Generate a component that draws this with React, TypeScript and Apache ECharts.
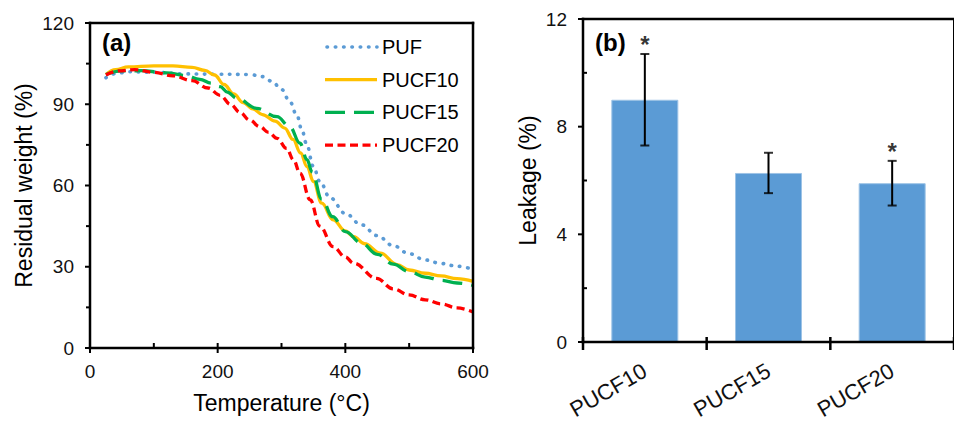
import React, { useEffect, useRef } from "react";
import * as echarts from "echarts";

// ---- Panel (a): TGA curves ----
const pufT = [25, 40, 60, 100, 150, 200, 250, 270, 285, 300, 313, 324, 332, 339, 350, 360, 376, 400, 425, 450, 475, 500, 525, 550, 575, 600];
const pufW = [99.8, 101.3, 102, 101.8, 101.2, 101.1, 101, 100.2, 98.5, 95.5, 91, 86, 80.5, 75.5, 67, 61.5, 55.5, 49.7, 45.5, 41.5, 37.8, 34.8, 32.5, 31.2, 30.2, 29.0];

const pucf10T = [25, 40, 60, 100, 130, 160, 180, 195, 210, 225, 240, 255, 270, 290, 305, 318, 330, 340, 350, 363, 381, 400, 413, 430, 455, 481, 500, 525, 550, 575, 600];
const pucf10W = [101, 102.8, 103.8, 104.2, 104.2, 103.6, 102.5, 100.8, 97.3, 93.8, 90.6, 88.3, 86.2, 83.8, 81.2, 77, 72, 67, 61.5, 53.5, 47.3, 43.2, 41.1, 38.5, 35, 30.8, 28.8, 27.6, 26.6, 25.6, 24.6];

const pucf15T = [25, 50, 80, 120, 150, 172, 190, 204, 215, 230, 261, 293, 313, 329, 340, 348, 363, 380, 400, 425, 450, 475, 500, 525, 550, 575, 600];
const pucf15W = [101, 102.3, 102.4, 101.6, 100.6, 99.2, 97.8, 96.5, 94.5, 92.2, 88.5, 85.4, 81.7, 75.6, 69.5, 65, 55, 48.5, 43.0, 38.8, 34.6, 31.0, 28.2, 26.2, 25.0, 24.0, 23.1];

const pucf20T = [25, 45, 70, 100, 130, 160, 185, 204, 220, 235, 250, 266, 280, 293, 308, 319, 329, 345, 360, 381, 400, 413, 449, 475, 500, 525, 550, 575, 600];
const pucf20W = [100.8, 102.3, 102.8, 101.8, 100.5, 98.7, 96, 93.3, 90, 87, 84.2, 81.7, 79.6, 77.4, 73.7, 69.4, 64.5, 54.7, 45, 37.4, 33.6, 31.3, 25.7, 21.8, 19.6, 17.8, 16.3, 14.8, 13.3];

const seriesNames = ["PUF", "PUCF10", "PUCF15", "PUCF20"];
const seriesColors = ["#5B9BD5", "#FFC000", "#00B050", "#FF0000"];
const seriesDash: (number[] | null)[] = [[0.5, 7.8], null, [20, 9], [8, 4.5]];
const seriesWidth = [3.6, 3.3, 3.3, 3.3];

const tempTicks = [0, 200, 400, 600];
const tempMinorTicks = [100, 300, 500];
const weightTicks = [0, 30, 60, 90, 120];
const weightMinorTicks = [15, 45, 75, 105];

// ---- Panel (b): leakage ----
const categories = ["PUCF10", "PUCF15", "PUCF20"];
const leakage = [9.0, 6.28, 5.9];
const leakageErr = [1.7, 0.75, 0.83];
const significant = [true, false, true];
const leakTicks = [0, 4, 8, 12];
const leakMinorTicks = [2, 6, 10];

const FONT = "'Liberation Sans', Arial, sans-serif";

export default function App() {
  const wrapRef = useRef<HTMLDivElement>(null);
  const ref = useRef<HTMLDivElement>(null);
  useEffect(() => {
    document.body.style.margin = "0";
    const chart = echarts.init(ref.current!, null, { renderer: "svg" });
    const zip = (t: number[], w: number[]) => t.map((x, i) => [x, w[i]]);
    const hidden = () => ({ show: false });
    const labelStyle = () => ({ fontSize: 19, color: "#111", fontFamily: FONT });
    const nameStyle = () => ({ fontSize: 23, color: "#000", fontFamily: FONT });

    const curves = [zip(pufT, pufW), zip(pucf10T, pucf10W), zip(pucf15T, pucf15W), zip(pucf20T, pucf20W)];
    const series: any[] = seriesNames.map((name, k) => ({
      type: "line",
      name,
      xAxisIndex: 0,
      yAxisIndex: 0,
      data: curves[k],
      smooth: 0.4,
      smoothMonotone: "x",
      symbol: "none",
      showSymbol: false,
      lineStyle: {
        color: seriesColors[k],
        width: seriesWidth[k],
        type: seriesDash[k] ?? "solid",
        cap: k === 0 ? "round" : "butt",
      },
      itemStyle: { color: seriesColors[k] },
      z: 3,
    }));

    series.push({
      type: "bar",
      name: "Leakage",
      xAxisIndex: 1,
      yAxisIndex: 1,
      data: leakage,
      barWidth: 67,
      itemStyle: { color: "#5B9BD5", borderColor: "#9DC3E6", borderWidth: 1 },
      z: 2,
    });

    const stems: any[] = [];
    categories.forEach((_, i) => {
      stems.push([i, leakage[i] - leakageErr[i]], [i, leakage[i] + leakageErr[i]], [i, null]);
    });
    series.push({
      type: "line",
      name: "ErrStem",
      xAxisIndex: 1,
      yAxisIndex: 1,
      data: stems,
      connectNulls: false,
      symbol: "none",
      showSymbol: false,
      lineStyle: { color: "#000", width: 2 },
      z: 4,
    });
    const caps: number[][] = [];
    categories.forEach((_, i) => {
      caps.push([i, leakage[i] - leakageErr[i]], [i, leakage[i] + leakageErr[i]]);
    });
    series.push({
      type: "scatter",
      name: "ErrCap",
      xAxisIndex: 1,
      yAxisIndex: 1,
      data: caps,
      symbol: "rect",
      symbolSize: [9, 2],
      itemStyle: { color: "#000" },
      z: 4,
    });
    series.push({
      type: "scatter",
      name: "Sig",
      xAxisIndex: 1,
      yAxisIndex: 1,
      data: categories.map((_, i) => (significant[i] ? [i, leakage[i] + leakageErr[i]] : [i, null])),
      symbolSize: 1,
      itemStyle: { color: "transparent" },
      label: {
        show: true,
        formatter: "*",
        position: "top",
        distance: -3,
        fontSize: 24,
        fontWeight: "bold",
        fontFamily: FONT,
        color: "#000",
      },
      z: 4,
    });

    chart.setOption({
      animation: false,
      backgroundColor: "#fff",
      grid: [
        { left: 90, right: 481, top: 23, bottom: 75 },
        { left: 583, right: -10, top: 19, bottom: 81 },
      ],
      xAxis: [
        {
          type: "value",
          gridIndex: 0,
          min: 0,
          max: 600,
          interval: 200,
          name: "Temperature (°C)",
          nameLocation: "middle",
          nameGap: 43,
          nameTextStyle: nameStyle(),
          axisLine: hidden(),
          axisTick: hidden(),
          axisLabel: { ...labelStyle(), margin: 14 },
          splitLine: hidden(),
        },
        {
          type: "category",
          gridIndex: 1,
          data: categories,
          axisLine: hidden(),
          axisTick: hidden(),
          axisLabel: { fontSize: 22, color: "#111", fontFamily: FONT, rotate: 30, margin: 27 },
          splitLine: hidden(),
        },
      ],
      yAxis: [
        {
          type: "value",
          gridIndex: 0,
          min: 0,
          max: 120,
          interval: 30,
          name: "Residual weight (%)",
          nameLocation: "middle",
          nameGap: 55,
          nameTextStyle: nameStyle(),
          axisLine: hidden(),
          axisTick: hidden(),
          axisLabel: { ...labelStyle(), margin: 16 },
          splitLine: hidden(),
        },
        {
          type: "value",
          gridIndex: 1,
          min: 0,
          max: 12,
          interval: 4,
          name: "Leakage (%)",
          nameLocation: "middle",
          nameGap: 44,
          nameTextStyle: nameStyle(),
          axisLine: hidden(),
          axisTick: hidden(),
          axisLabel: { ...labelStyle(), margin: 16 },
          splitLine: hidden(),
        },
      ],
      series,
    });

    // ---- axis frames and ticks, positioned through the chart's own scales ----
    const px = (axis: number, v: number) => chart.convertToPixel({ xAxisIndex: axis } as any, v) as unknown as number;
    const py = (axis: number, v: number) => chart.convertToPixel({ yAxisIndex: axis } as any, v) as unknown as number;
    const seg = (x1: number, y1: number, x2: number, y2: number, w: number) => ({
      type: "line",
      z: 50,
      shape: { x1, y1, x2, y2 },
      style: { stroke: "#000", lineWidth: w, lineCap: "butt" },
    });
    const edgeH = (x1: number, x2: number, y: number, w: number) => ({
      type: "rect",
      z: 50,
      shape: { x: x1 - w / 2, y: y - w / 2, width: x2 - x1 + w, height: w },
      style: { fill: "#000", stroke: "none" },
    });
    const edgeV = (x: number, y1: number, y2: number, w: number) => ({
      type: "rect",
      z: 50,
      shape: { x: x - w / 2, y: Math.min(y1, y2) - w / 2, width: w, height: Math.abs(y2 - y1) + w },
      style: { fill: "#000", stroke: "none" },
    });
    const g: any[] = [];
    const FW = 2.5;

    // panel (a)
    const aL = px(0, 0), aR = px(0, 600), aB = py(0, 0), aT = py(0, 120);
    g.push(edgeH(aL, aR, aB, FW));
    g.push(edgeH(aL, aR, aT, FW));
    g.push(edgeV(aL, aT, aB, FW));
    g.push(edgeV(aR, aT, aB, FW));
    tempTicks.forEach((v) => g.push(seg(px(0, v), aB - 5, px(0, v), aB + 5, 2)));
    tempMinorTicks.forEach((v) => g.push(seg(px(0, v), aB - 5, px(0, v), aB, 2)));
    weightTicks.forEach((v) => g.push(seg(aL - 5, py(0, v), aL, py(0, v), 2)));
    weightMinorTicks.forEach((v) => g.push(seg(aL - 4, py(0, v), aL, py(0, v), 2)));

    // panel (b)
    const c0 = px(1, 0), c1 = px(1, 1);
    const band = c1 - c0;
    const bL = c0 - band / 2, bR = px(1, categories.length - 1) + band / 2;
    const bB = py(1, 0), bT = py(1, 12);
    g.push(edgeH(bL, bR, bB, FW));
    g.push(edgeH(bL, bR, bT, FW));
    g.push(edgeV(bL, bT, bB, FW));
    for (let i = 0; i <= categories.length; i++) {
      const x = bL + i * band;
      g.push(seg(x, bB - 5, x, bB + 8, 2.5));
    }
    leakTicks.forEach((v) => g.push(seg(bL - 5, py(1, v), bL, py(1, v), 2)));
    leakMinorTicks.forEach((v) => g.push(seg(bL, py(1, v), bL + 4, py(1, v), 2)));

    // legend (line samples with dash patterns)
    const legendX = 325;
    const legendY0 = 47;
    const legendStep = 32.7;
    seriesNames.forEach((name, k) => {
      const y = legendY0 + k * legendStep;
      g.push({
        type: "line",
        shape: { x1: legendX + (k === 0 ? 2 : 0), y1: y, x2: legendX + 52, y2: y },
        style: {
          stroke: seriesColors[k],
          lineWidth: seriesWidth[k],
          lineDash: seriesDash[k] ?? undefined,
          lineCap: k === 0 ? "round" : "butt",
        },
      });
      g.push({
        type: "text",
        x: legendX + 57,
        y,
        style: { text: name, fontSize: 20, fontFamily: FONT, fill: "#000", verticalAlign: "middle" },
      });
    });

    g.push({ type: "text", left: 102, top: 30, style: { text: "(a)", fontSize: 24, fontWeight: "bold", fontFamily: FONT, fill: "#000" } });
    g.push({ type: "text", left: 595, top: 30, style: { text: "(b)", fontSize: 24, fontWeight: "bold", fontFamily: FONT, fill: "#000" } });

    chart.setOption({ graphic: g });

    // overlay frame boxes (same positions, from the chart's scales) to guarantee solid black borders
    const host = wrapRef.current!;
    const boxes: HTMLDivElement[] = [];
    const addBox = (l: number, t: number, w: number, h: number) => {
      const d = document.createElement("div");
      Object.assign(d.style, {
        position: "absolute",
        left: `${l}px`,
        top: `${t}px`,
        width: `${w}px`,
        height: `${h}px`,
        boxSizing: "border-box",
        border: `${FW}px solid #000`,
        pointerEvents: "none",
      });
      host.appendChild(d);
      boxes.push(d);
    };
    addBox(aL - FW / 2, aT - FW / 2, aR - aL + FW, aB - aT + FW);
    addBox(bL - FW / 2, bT - FW / 2, bR - bL + FW, bB - bT + FW);

    return () => {
      boxes.forEach((b) => b.remove());
      chart.dispose();
    };
  }, []);
  return (
    <div ref={wrapRef} style={{ position: "relative", width: 954, height: 423, overflow: "hidden" }}>
      <div ref={ref} style={{ width: 954, height: 423 }} />
    </div>
  );
}
